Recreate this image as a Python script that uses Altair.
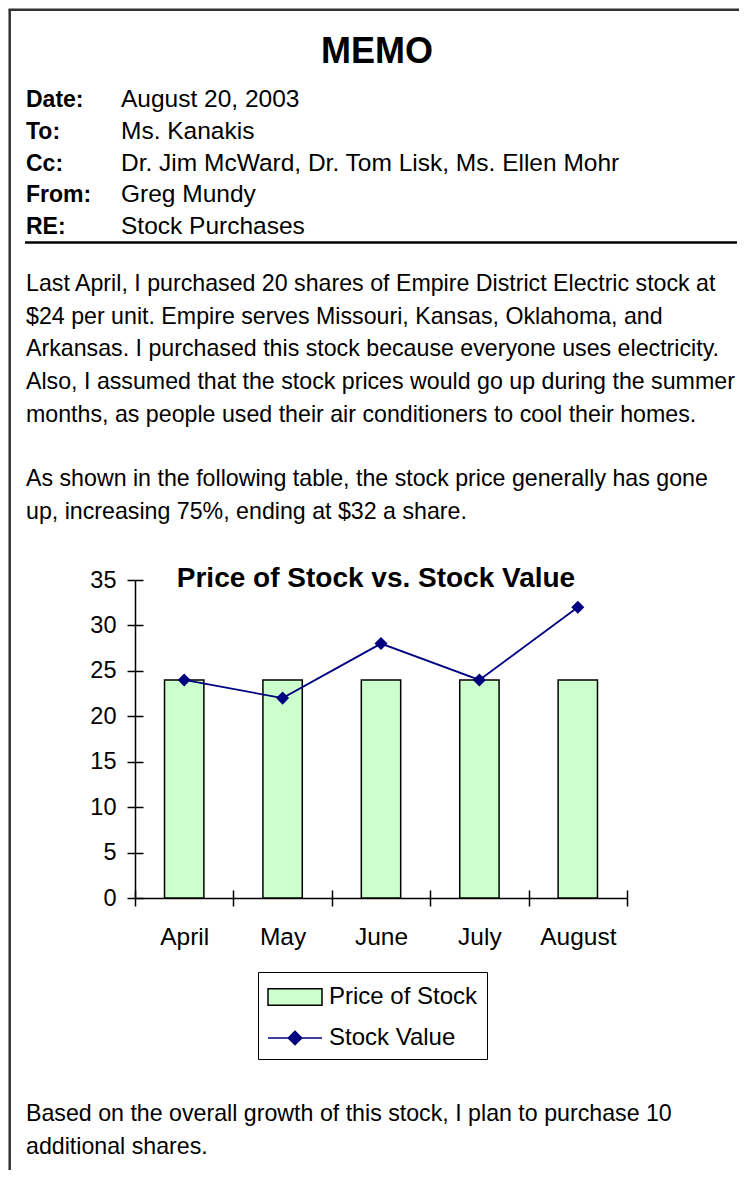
import altair as alt
import pandas as pd

FONT = "Liberation Sans"

# ---- chart data ----
months = ["April", "May", "June", "July", "August"]
price_of_stock = [24, 24, 24, 24, 24]
stock_value = [24, 22, 28, 24, 32]
series = ["Price of Stock", "Stock Value"]
y_ticks = [0, 5, 10, 15, 20, 25, 30, 35]

# ---- memo text ----
memo_title = "MEMO"
header_labels = ["Date:", "To:", "Cc:", "From:", "RE:"]
header_values = [
    "August 20, 2003",
    "Ms. Kanakis",
    "Dr. Jim McWard, Dr. Tom Lisk, Ms. Ellen Mohr",
    "Greg Mundy",
    "Stock Purchases",
]
para1 = [
    "Last April, I purchased 20 shares of Empire District Electric stock at",
    "$24 per unit.  Empire serves Missouri, Kansas, Oklahoma, and",
    "Arkansas. I purchased this stock because everyone uses electricity.",
    "Also, I assumed that the stock prices would go up during the summer",
    "months, as people used their air conditioners to cool their homes.",
]
para2 = [
    "As shown in the following table, the stock price generally has gone",
    "up, increasing 75%, ending at $32 a share.",
]
footer = [
    "Based on the overall growth of this stock, I plan to purchase 10",
    "additional shares.",
]
chart_title = "Price of Stock vs. Stock Value"

df = pd.DataFrame({"month": months, "price": price_of_stock, "value": stock_value})
one = pd.DataFrame({"k": [0]})

x_enc = alt.X(
    "month:N",
    sort=months,
    scale=alt.Scale(paddingInner=0, paddingOuter=0),
    axis=alt.Axis(
        title=None, labelAngle=0, tickBand="extent", tickSize=8, labelPadding=19,
        labelFont=FONT, labelFontSize=24.5, labelColor="black",
        domainColor="black", domainWidth=1.5, tickColor="black", tickWidth=1.5,
        grid=True, gridColor="black", gridWidth=1.5, gridDash=[0, 310, 8, 1000], gridOpacity=1,
    ),
)
y_axis = alt.Axis(
    title=None, values=y_ticks, tickSize=8, labelPadding=11,
    labelFont=FONT, labelFontSize=23.5, labelColor="black",
    domainColor="black", domainWidth=1.5, tickColor="black", tickWidth=1.5,
    grid=True, gridColor="black", gridWidth=1.5, gridDash=[8, 3000], gridOpacity=1,
)
y_scale = alt.Scale(domain=[0, 35], nice=False)

bars = alt.Chart(df).mark_bar(
    fill="#ccffcc", stroke="black", strokeWidth=1.5, width=alt.RelativeBandSize(0.4)
).encode(
    x=x_enc,
    y=alt.Y("price:Q", scale=y_scale, axis=y_axis),
)
line = alt.Chart(df).mark_line(color="#000080", strokeWidth=1.8).encode(
    x=alt.X("month:N", sort=months), y=alt.Y("value:Q", scale=y_scale)
)
pts = alt.Chart(df).mark_point(shape="diamond", filled=True, size=170, color="#000080", opacity=1).encode(
    x=alt.X("month:N", sort=months), y=alt.Y("value:Q", scale=y_scale)
)

# legend (drawn by Vega-Lite from explicit scale domains)
rect_path = "M-1,-0.55H2.6V0.55H-1Z"
line_path = "M-1,0H2.6M0.8,-0.45L1.25,0L0.8,0.45L0.35,0Z"
leg = alt.Legend(
    title=None, orient="none", legendX=123, legendY=392, padding=9,
    strokeColor="black", fillColor="white", labelFont=FONT, labelFontSize=24,
    labelColor="black", symbolSize=900, symbolStrokeWidth=1.5, labelOffset=30,
    rowPadding=13, symbolOpacity=1, labelLimit=400,
)
leg_df = pd.DataFrame({"series": series})
legend_layer = alt.Chart(leg_df).transform_filter("false").mark_point(filled=True, opacity=1).encode(
    fill=alt.Fill("series:N", scale=alt.Scale(domain=series, range=["#ccffcc", "#000080"]), legend=leg),
    stroke=alt.Stroke("series:N", scale=alt.Scale(domain=series, range=["black", "#000080"]), legend=leg),
    shape=alt.Shape("series:N", scale=alt.Scale(domain=series, range=[rect_path, line_path]), legend=leg),
)


def text_block(lines, x, y, size=23.2, bold=False, align="left", lh=32.7):
    return alt.Chart(one).mark_text(
        text=lines, font=FONT, fontSize=size, fontWeight="bold" if bold else "normal",
        align=align, baseline="alphabetic", lineHeight=lh, color="black",
    ).encode(x=alt.value(x), y=alt.value(y))


title_txt = text_block([chart_title], 241, 7, size=28, bold=True, align="center")
memo_txt = text_block([memo_title], 242, -517, size=36, bold=True, align="center")
hdr_lab = text_block(header_labels, -109, -473, size=23, bold=True, lh=31.8)
hdr_val = text_block(header_values, -14, -473, size=24.5, lh=31.8)
p1 = text_block(para1, -109, -289)
p2 = text_block(para2, -109, -94)
ft = text_block(footer, -109, 541)

frame_v = alt.Chart(one).mark_rule(color="#333333", strokeWidth=2.5).encode(
    x=alt.value(-125.3), y=alt.value(-570.3), y2=alt.value(700)
)
frame_h = alt.Chart(one).mark_rule(color="#333333", strokeWidth=2.5).encode(
    x=alt.value(-126.5), x2=alt.value(700), y=alt.value(-570.3)
)
hr = alt.Chart(one).mark_rule(color="black", strokeWidth=2.5).encode(
    x=alt.value(-110), x2=alt.value(602), y=alt.value(-337.5)
)

chart = alt.layer(
    bars, line, pts, legend_layer, title_txt, memo_txt, hdr_lab, hdr_val, p1, p2, ft,
    frame_v, frame_h, hr,
).properties(
    width=492, height=318,
    autosize=alt.AutoSizeParams(type="none"),
    padding={"left": 127, "top": 572, "right": 112, "bottom": 272},
).configure(background="white").configure_view(stroke="transparent", strokeWidth=0)

chart.save("out.html", embed_options={"renderer": "svg", "actions": False})
